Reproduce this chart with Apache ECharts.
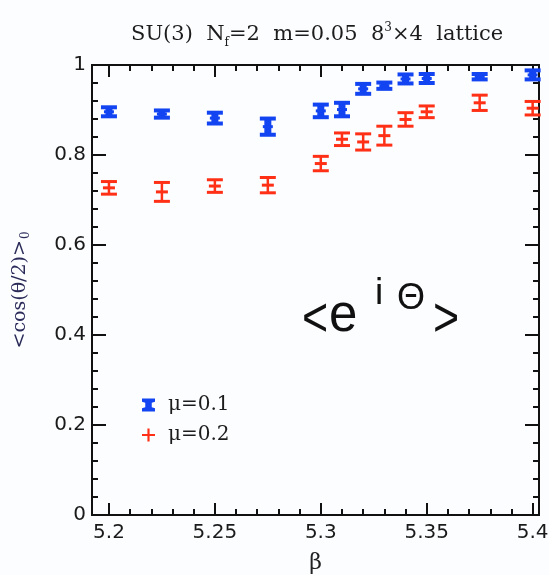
<!DOCTYPE html>
<html>
<head>
<meta charset="utf-8">
<script src="https://cdn.jsdelivr.net/npm/echarts@6/dist/echarts.min.js"></script>
<style>
  html, body { margin: 0; padding: 0; background: #fcfdff; }
  #chart { width: 549px; height: 575px; }
</style>
</head>
<body>
<div id="chart"></div>
<script>
// Lattice coupling values (beta) where the phase average was measured
const beta = [5.2, 5.225, 5.25, 5.275, 5.3, 5.31, 5.32, 5.33, 5.34, 5.35, 5.375, 5.4];

// <cos(theta/2)> at mu = 0.1, with statistical errors
const mu01Mean = [0.896, 0.891, 0.882, 0.863, 0.898, 0.901, 0.947, 0.954, 0.969, 0.970, 0.974, 0.978];
const mu01Err  = [0.010, 0.008, 0.012, 0.018, 0.014, 0.015, 0.011, 0.007, 0.010, 0.010, 0.006, 0.010];

// <cos(theta/2)> at mu = 0.2, with statistical errors
const mu02Mean = [0.727, 0.718, 0.731, 0.733, 0.781, 0.835, 0.829, 0.843, 0.879, 0.896, 0.916, 0.904];
const mu02Err  = [0.014, 0.021, 0.014, 0.017, 0.016, 0.014, 0.018, 0.021, 0.015, 0.013, 0.017, 0.015];

// Axis ticks
const xMajorTicks = [5.2, 5.25, 5.3, 5.35, 5.4];
const xMinorStep = 0.01;
const yTicks = [0, 0.2, 0.4, 0.6, 0.8, 1];

const BLUE = '#1244f2';
const RED = '#ff3016';

const xMinorTicks = [];
for (let i = 0; i <= 20; i++) {
  const v = Math.round((5.2 + i * xMinorStep) * 1000) / 1000;
  if (xMajorTicks.indexOf(v) < 0) xMinorTicks.push(v);
}

function toBars(means, errs) {
  return beta.map((b, i) => [b, means[i] - errs[i], means[i] + errs[i], means[i]]);
}

// Error bar glyph: vertical body, two caps, and a centre mark
function errorBar(color, bodyW, capW, capH, midW) {
  return function (params, api) {
    const x = api.value(0);
    const lo = api.coord([x, api.value(1)]);
    const hi = api.coord([x, api.value(2)]);
    const mid = api.coord([x, api.value(3)]);
    const cx = hi[0];
    const st = { fill: color };
    return {
      type: 'group',
      children: [
        { type: 'rect', shape: { x: cx - bodyW / 2, y: hi[1], width: bodyW, height: lo[1] - hi[1] }, style: st },
        { type: 'rect', shape: { x: cx - capW / 2, y: hi[1] - capH / 2, width: capW, height: capH }, style: st },
        { type: 'rect', shape: { x: cx - capW / 2, y: lo[1] - capH / 2, width: capW, height: capH }, style: st },
        { type: 'rect', shape: { x: cx - midW / 2, y: mid[1] - 1.5, width: midW, height: 3 }, style: st }
      ]
    };
  };
}

const XMIN = 5.192, XMAX = 5.403;
const axisLineStyle = { color: '#111', width: 2 };
const tickFont = { fontFamily: 'DejaVu Sans', fontSize: 20, color: '#1a1a1a' };

function xAxisDef(pos, values, len, withLabels) {
  return {
    type: 'value', position: pos, min: XMIN, max: XMAX,
    axisLine: { show: true, onZero: false, lineStyle: axisLineStyle },
    splitLine: { show: false },
    axisTick: { show: true, inside: true, length: len, lineStyle: { color: '#111', width: 2 }, customValues: values },
    axisLabel: withLabels
      ? Object.assign({ show: true, margin: 8, customValues: values, formatter: v => String(Math.round(v * 1000) / 1000) }, tickFont)
      : { show: false, customValues: values },
    name: withLabels ? 'β' : '',
    nameLocation: 'middle', nameGap: 37,
    nameTextStyle: { fontFamily: 'DejaVu Serif', fontSize: 22, color: '#222' }
  };
}

function yAxisDef(pos, withLabels) {
  return {
    type: 'value', position: pos, min: 0, max: 1, interval: 0.2,
    axisLine: { show: true, onZero: false, lineStyle: axisLineStyle },
    splitLine: { show: false },
    axisTick: { show: true, inside: true, length: 14, lineStyle: { color: '#111', width: 2 } },
    minorTick: { show: true, splitNumber: 5, length: 6, lineStyle: { color: '#111', width: 2 } },
    axisLabel: withLabels ? Object.assign({ show: true, margin: 6 }, tickFont) : { show: false },
    name: withLabels ? '<cos(θ/2)>{sub|0}' : '',
    nameLocation: 'middle', nameRotate: 90, nameGap: 60,
    nameTextStyle: {
      fontFamily: 'DejaVu Serif', fontSize: 19, color: '#2b2b5a',
      rich: { sub: { fontFamily: 'DejaVu Serif', fontSize: 12, color: '#2b2b5a', padding: [12, 0, 0, 1] } }
    }
  };
}

const chart = echarts.init(document.getElementById('chart'), null, { renderer: 'canvas' });

const bigFont = 'Liberation Sans';
chart.setOption({
  backgroundColor: '#fcfdff',
  animation: false,
  title: {
    text: 'SU(3)  N{sub|f}=2  m=0.05  8{sup|3}×4  lattice',
    left: 131, top: 21,
    textStyle: {
      fontFamily: 'DejaVu Serif', fontSize: 21, fontWeight: 'normal', color: '#1c1c1c',
      rich: {
        sub: { fontFamily: 'DejaVu Serif', fontSize: 12, color: '#1c1c1c', padding: [16, 0, 0, 0] },
        sup: { fontFamily: 'DejaVu Serif', fontSize: 12, color: '#1c1c1c', padding: [0, 0, 14, 0] }
      }
    },
    padding: 0
  },
  grid: { left: 92, right: 10, top: 65, bottom: 60, outerBoundsMode: 'none', containLabel: false },
  legend: {
    orient: 'vertical', left: 137, top: 390, itemGap: 10,
    itemWidth: 13, itemHeight: 13,
    textStyle: { fontFamily: 'DejaVu Serif', fontSize: 20, color: '#1c1c1c', padding: [0, 0, 0, 8] },
    data: [
      { name: 'μ=0.1', icon: 'path://M0,0 L12,0 L12,3 L9,4 L9,8 L12,9 L12,12 L0,12 L0,9 L3,8 L3,4 L0,3 Z', itemStyle: { color: BLUE } },
      { name: 'μ=0.2', icon: 'path://M5,0 L7,0 L7,5 L12,5 L12,7 L7,7 L7,12 L5,12 L5,7 L0,7 L0,5 L5,5 Z', itemStyle: { color: RED } }
    ]
  },
  xAxis: [
    xAxisDef('bottom', xMajorTicks, 12, true),
    xAxisDef('bottom', xMinorTicks, 6, false),
    xAxisDef('top', xMajorTicks, 12, false),
    xAxisDef('top', xMinorTicks, 6, false)
  ],
  yAxis: [yAxisDef('left', true), yAxisDef('right', false)],
  series: [
    {
      name: 'μ=0.1', type: 'custom', xAxisIndex: 0, yAxisIndex: 0,
      itemStyle: { color: BLUE },
      renderItem: errorBar(BLUE, 7, 16, 4, 10),
      data: toBars(mu01Mean, mu01Err)
    },
    {
      name: 'μ=0.2', type: 'custom', xAxisIndex: 0, yAxisIndex: 0,
      itemStyle: { color: RED },
      renderItem: errorBar(RED, 2.5, 16, 3, 12),
      data: toBars(mu02Mean, mu02Err)
    }
  ],
  graphic: [
    { type: 'text', left: 302, top: 293, scaleX: 0.8, style: { text: '<', font: '56px ' + bigFont, fill: '#111' } },
    { type: 'text', left: 329, top: 291, style: { text: 'e', font: '51px ' + bigFont, fill: '#111' } },
    { type: 'text', left: 375, top: 275, style: { text: 'i', font: '37px ' + bigFont, fill: '#111' } },
    { type: 'text', left: 397, top: 281, style: { text: 'Θ', font: '36px ' + bigFont, fill: '#111' } },
    { type: 'text', left: 433, top: 293, scaleX: 0.8, style: { text: '>', font: '56px ' + bigFont, fill: '#111' } }
  ]
});
</script>
</body>
</html>
